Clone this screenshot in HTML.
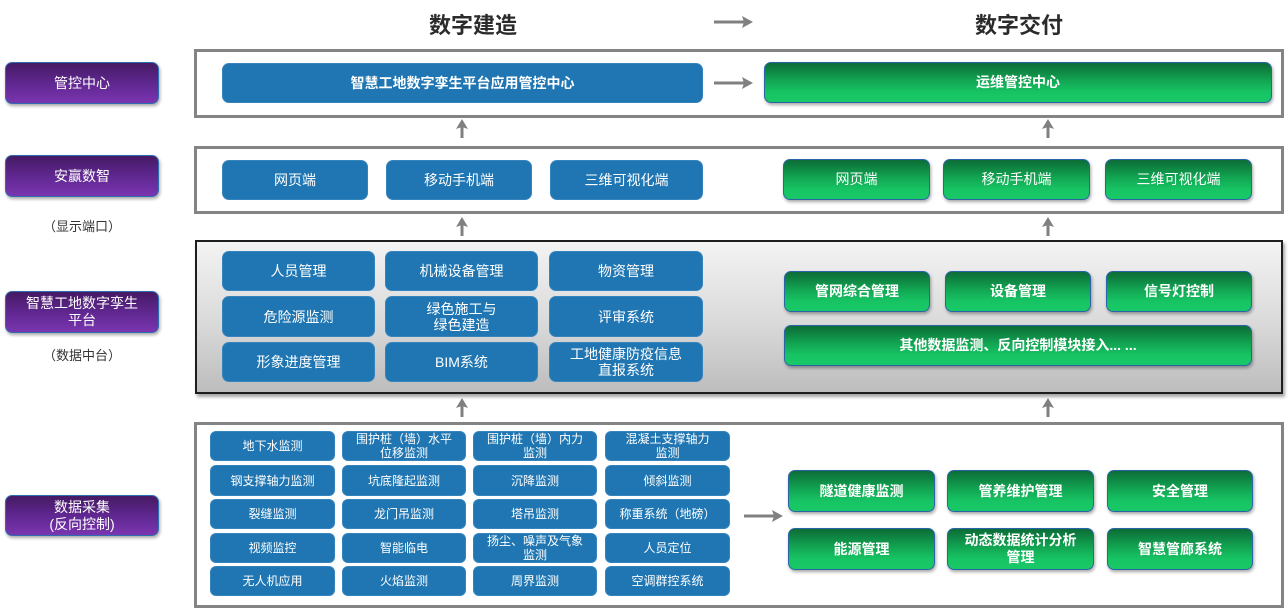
<!DOCTYPE html>
<html><head><meta charset="utf-8">
<style>
*{margin:0;padding:0;box-sizing:border-box;}
body{width:1288px;height:608px;background:#fff;position:relative;overflow:hidden;font-family:"Liberation Sans","Noto Sans CJK SC",sans-serif;}
.a{position:absolute;display:flex;align-items:center;justify-content:center;text-align:center;}
.frame{position:absolute;border:3px solid #848484;background:#fff;}
.gray{position:absolute;border:2px solid #1e1e1e;background:linear-gradient(to bottom,#f3f3f3 0%,#dcdcdc 50%,#bdbdbd 100%);box-shadow:2px 3px 3px rgba(0,0,0,0.35);}
.pur{position:absolute;display:flex;align-items:center;justify-content:center;text-align:center;color:#fff;font-size:14px;line-height:17px;border:1px solid #2d6fae;border-radius:7px;background:linear-gradient(to bottom,#451a63 0%,#5f2790 50%,#7a35b0 100%);box-shadow:1px 2px 3px rgba(0,0,0,0.35);}
.b{position:absolute;display:flex;align-items:center;justify-content:center;text-align:center;color:#fff;background:#1f76b2;border:1px solid #3584bd;border-radius:7px;font-size:14px;line-height:16px;}
.s{font-size:12px;line-height:14px;border-radius:6px;}
.g{position:absolute;display:flex;align-items:center;justify-content:center;text-align:center;color:#fff;font-weight:bold;font-size:14px;line-height:17px;border:1px solid #2a63a8;border-radius:7px;background:linear-gradient(to bottom,#0c6c37 0%,#12a552 45%,#17c464 75%,#18c866 100%);box-shadow:1px 2px 3px rgba(0,0,0,0.35);}
.gn{font-weight:normal;}
.lbl{position:absolute;font-size:13px;color:#333;text-align:center;width:164px;left:0;}
.title{position:absolute;font-size:22px;font-weight:bold;color:#2b2b2b;}
</style></head><body>

<!-- titles -->
<div class="title" style="left:429px;top:8px;">数字建造</div>
<div class="title" style="left:975px;top:8px;">数字交付</div>

<!-- left labels -->
<div class="pur" style="left:5px;top:62px;width:154px;height:42px;">管控中心</div>
<div class="pur" style="left:5px;top:155px;width:154px;height:42px;">安赢数智</div>
<div class="lbl" style="top:216px;">（显示端口）</div>
<div class="pur" style="left:5px;top:291px;width:154px;height:42px;">智慧工地数字孪生<br>平台</div>
<div class="lbl" style="top:345px;">（数据中台）</div>
<div class="pur" style="left:5px;top:495px;width:154px;height:41px;">数据采集<br>(反向控制)</div>

<!-- frames -->
<div class="frame" style="left:194px;top:49px;width:1090px;height:69px;"></div>
<div class="frame" style="left:194px;top:146px;width:1090px;height:68px;"></div>
<div class="gray" style="left:195px;top:240px;width:1088px;height:154px;"></div>
<div class="frame" style="left:194px;top:422px;width:1090px;height:186px;"></div>

<!-- row1 -->
<div class="b" style="left:222px;top:63px;width:481px;height:40px;font-weight:bold;">智慧工地数字孪生平台应用管控中心</div>
<div class="g" style="left:764px;top:62px;width:508px;height:41px;">运维管控中心</div>

<!-- row2 -->
<div class="b" style="left:222px;top:160px;width:146px;height:40px;">网页端</div>
<div class="b" style="left:386px;top:160px;width:146px;height:40px;">移动手机端</div>
<div class="b" style="left:550px;top:160px;width:153px;height:40px;">三维可视化端</div>
<div class="g gn" style="left:783px;top:159px;width:147px;height:41px;">网页端</div>
<div class="g gn" style="left:943px;top:159px;width:147px;height:41px;">移动手机端</div>
<div class="g gn" style="left:1105px;top:159px;width:147px;height:41px;">三维可视化端</div>

<!-- row3 -->
<div class="b" style="left:222px;top:251px;width:153px;height:40px;">人员管理</div>
<div class="b" style="left:385px;top:251px;width:153px;height:40px;">机械设备管理</div>
<div class="b" style="left:549px;top:251px;width:154px;height:40px;">物资管理</div>
<div class="b" style="left:222px;top:296px;width:153px;height:41px;">危险源监测</div>
<div class="b" style="left:385px;top:296px;width:153px;height:41px;">绿色施工与<br>绿色建造</div>
<div class="b" style="left:549px;top:296px;width:154px;height:41px;">评审系统</div>
<div class="b" style="left:222px;top:342px;width:153px;height:40px;">形象进度管理</div>
<div class="b" style="left:385px;top:342px;width:153px;height:40px;">BIM系统</div>
<div class="b" style="left:549px;top:342px;width:154px;height:40px;">工地健康防疫信息<br>直报系统</div>

<div class="g" style="left:784px;top:271px;width:146px;height:41px;">管网综合管理</div>
<div class="g" style="left:945px;top:271px;width:146px;height:41px;">设备管理</div>
<div class="g" style="left:1106px;top:271px;width:146px;height:41px;">信号灯控制</div>
<div class="g" style="left:784px;top:325px;width:468px;height:41px;">其他数据监测、反向控制模块接入... ...</div>

<!-- row4 -->
<div class="b s" style="left:210px;top:431px;width:125px;height:30px;">地下水监测</div>
<div class="b s" style="left:342px;top:431px;width:124px;height:30px;">围护桩（墙）水平<br>位移监测</div>
<div class="b s" style="left:473px;top:431px;width:124px;height:30px;">围护桩（墙）内力<br>监测</div>
<div class="b s" style="left:605px;top:431px;width:125px;height:30px;">混凝土支撑轴力<br>监测</div>

<div class="b s" style="left:210px;top:465px;width:125px;height:31px;">钢支撑轴力监测</div>
<div class="b s" style="left:342px;top:465px;width:124px;height:31px;">坑底隆起监测</div>
<div class="b s" style="left:473px;top:465px;width:124px;height:31px;">沉降监测</div>
<div class="b s" style="left:605px;top:465px;width:125px;height:31px;">倾斜监测</div>

<div class="b s" style="left:210px;top:499px;width:125px;height:30px;">裂缝监测</div>
<div class="b s" style="left:342px;top:499px;width:124px;height:30px;">龙门吊监测</div>
<div class="b s" style="left:473px;top:499px;width:124px;height:30px;">塔吊监测</div>
<div class="b s" style="left:605px;top:499px;width:125px;height:30px;">称重系统（地磅）</div>

<div class="b s" style="left:210px;top:533px;width:125px;height:30px;">视频监控</div>
<div class="b s" style="left:342px;top:533px;width:124px;height:30px;">智能临电</div>
<div class="b s" style="left:473px;top:533px;width:124px;height:30px;">扬尘、噪声及气象<br>监测</div>
<div class="b s" style="left:605px;top:533px;width:125px;height:30px;">人员定位</div>

<div class="b s" style="left:210px;top:566px;width:125px;height:30px;">无人机应用</div>
<div class="b s" style="left:342px;top:566px;width:124px;height:30px;">火焰监测</div>
<div class="b s" style="left:473px;top:566px;width:124px;height:30px;">周界监测</div>
<div class="b s" style="left:605px;top:566px;width:125px;height:30px;">空调群控系统</div>

<div class="g" style="left:788px;top:470px;width:147px;height:42px;">隧道健康监测</div>
<div class="g" style="left:947px;top:470px;width:147px;height:42px;">管养维护管理</div>
<div class="g" style="left:1107px;top:470px;width:146px;height:42px;">安全管理</div>
<div class="g" style="left:788px;top:528px;width:147px;height:42px;">能源管理</div>
<div class="g" style="left:947px;top:528px;width:147px;height:42px;">动态数据统计分析<br>管理</div>
<div class="g" style="left:1107px;top:528px;width:146px;height:42px;">智慧管廊系统</div>

<!-- arrows -->
<svg width="1288" height="608" style="position:absolute;left:0;top:0;pointer-events:none;">
<g stroke="#808080" stroke-width="3" fill="none" stroke-linecap="butt">
<line x1="714" y1="22" x2="746" y2="22"/>
<line x1="714" y1="83" x2="746" y2="83"/>
<line x1="744" y1="516" x2="776" y2="516"/>
<line x1="462" y1="138" x2="462" y2="127"/>
<line x1="1048" y1="138" x2="1048" y2="127"/>
<line x1="462" y1="236" x2="462" y2="225"/>
<line x1="1048" y1="236" x2="1048" y2="225"/>
<line x1="462" y1="417" x2="462" y2="406"/>
<line x1="1048" y1="417" x2="1048" y2="406"/>
</g>
<g fill="#808080">
<polygon points="753,22 742,16 744,22 742,28"/>
<polygon points="753,83 742,77 744,83 742,89"/>
<polygon points="783,516 772,510 774,516 772,522"/>
<polygon points="462,119 456,129 462,127 468,129"/>
<polygon points="1048,119 1042,129 1048,127 1054,129"/>
<polygon points="462,217 456,227 462,225 468,227"/>
<polygon points="1048,217 1042,227 1048,225 1054,227"/>
<polygon points="462,398 456,408 462,406 468,408"/>
<polygon points="1048,398 1042,408 1048,406 1054,408"/>
</g>
</svg>
</body></html>
